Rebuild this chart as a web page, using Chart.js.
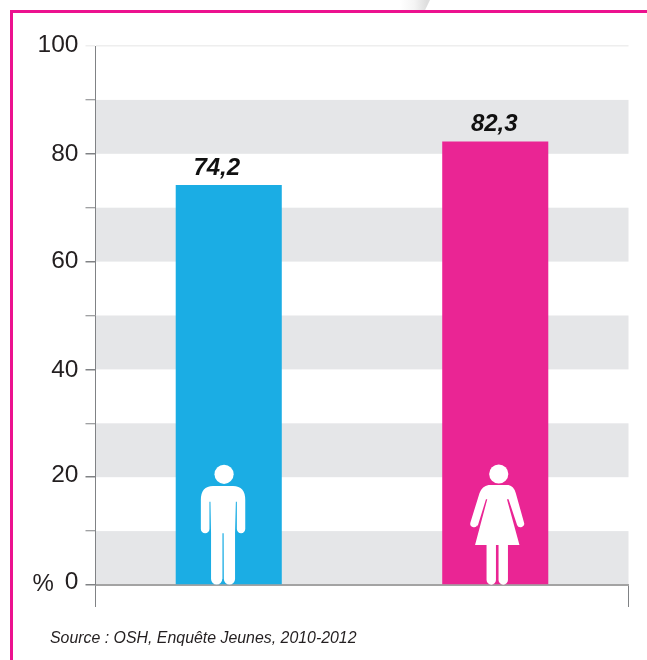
<!DOCTYPE html>
<html lang="fr">
<head>
<meta charset="utf-8">
<title>Enquête Jeunes</title>
<script src="https://cdn.jsdelivr.net/npm/chart.js@4"></script>
<style>
html,body{margin:0;padding:0;background:#fff;width:647px;height:660px;overflow:hidden}
#wrap{position:relative;width:647px;height:660px}
#swoosh{position:absolute;left:395px;top:0;width:35px;height:10px;background:linear-gradient(90deg,#fff 15%,#f4f4f4 55%,#dedede 90%);clip-path:polygon(0 0,100% 0,86% 100%,0 100%)}
#frame{position:absolute;left:10px;top:10px;width:637px;height:650px;box-sizing:border-box;border-left:3px solid #EC118F;border-top:3px solid #EC118F}
canvas{position:absolute;left:0;top:0}
</style>
</head>
<body>
<div id="wrap">
<div id="swoosh"></div>
<div id="frame"></div>
<canvas id="c" width="647" height="660"></canvas>
</div>
<script>
const categories = ['Hommes', 'Femmes'];
const seriesValues = [74.2, 82.3];
const valueLabels = ['74,2', '82,3'];
const barColors = ['#1BADE4', '#EA2594'];
const tickValues = [0, 20, 40, 60, 80, 100];
const bandRanges = [[0, 10], [20, 30], [40, 50], [60, 70], [80, 90]];
const sourceText = 'Source : OSH, Enquête Jeunes, 2010-2012';
const unitText = '%';

const INK = '#231F20';
const labelNudgeX = [-12, -1];
const tickNudge = {100: -1, 80: 0, 60: 0, 40: 1, 20: -2, 0: -3};

function drawMan(ctx, cx, base) {
  ctx.beginPath(); ctx.arc(cx + 1, base - 110.7, 9.6, 0, Math.PI * 2); ctx.fill();
  ctx.beginPath();
  ctx.moveTo(cx - 10, base - 99);
  ctx.lineTo(cx + 10, base - 99);
  ctx.quadraticCurveTo(cx + 22.2, base - 99, cx + 22.2, base - 85);
  ctx.lineTo(cx + 22.2, base - 56);
  ctx.arc(cx + 18, base - 56, 4.2, 0, Math.PI);
  ctx.lineTo(cx + 13.8, base - 83.3);
  ctx.lineTo(cx + 12.8, base - 83.3);
  ctx.lineTo(cx + 12, base - 52);
  ctx.lineTo(cx + 12, base - 6);
  ctx.arc(cx + 6.4, base - 6, 5.6, 0, Math.PI);
  ctx.lineTo(cx + 0.6, base - 51.7);
  ctx.lineTo(cx - 0.6, base - 51.7);
  ctx.lineTo(cx - 0.6, base - 6);
  ctx.arc(cx - 6.4, base - 6, 5.6, 0, Math.PI);
  ctx.lineTo(cx - 12, base - 52);
  ctx.lineTo(cx - 12.6, base - 83.3);
  ctx.lineTo(cx - 13.6, base - 83.3);
  ctx.lineTo(cx - 13.6, base - 56);
  ctx.arc(cx - 17.9, base - 56, 4.3, 0, Math.PI);
  ctx.lineTo(cx - 22.2, base - 85);
  ctx.quadraticCurveTo(cx - 22.2, base - 99, cx - 10, base - 99);
  ctx.closePath(); ctx.fill();
}

function drawWoman(ctx, cx, base) {
  ctx.beginPath(); ctx.arc(cx + 1.5, base - 111, 9.6, 0, Math.PI * 2); ctx.fill();
  ctx.beginPath();
  ctx.moveTo(cx - 8.7, base - 100);
  ctx.lineTo(cx + 11.3, base - 100);
  ctx.quadraticCurveTo(cx + 16.5, base - 99, cx + 18.5, base - 92);
  ctx.lineTo(cx + 26.6, base - 63);
  ctx.arc(cx + 23.2, base - 61.5, 3.7, -0.4, Math.PI - 0.3);
  ctx.lineTo(cx + 11.3, base - 85.7);
  ctx.lineTo(cx + 9.7, base - 85.7);
  ctx.lineTo(cx + 22.2, base - 40);
  ctx.lineTo(cx + 10.7, base - 40);
  ctx.lineTo(cx + 10.7, base - 5);
  ctx.arc(cx + 6, base - 5, 4.7, 0, Math.PI);
  ctx.lineTo(cx + 1.3, base - 40);
  ctx.lineTo(cx - 1.3, base - 40);
  ctx.lineTo(cx - 1.3, base - 5);
  ctx.arc(cx - 6, base - 5, 4.7, 0, Math.PI);
  ctx.lineTo(cx - 10.7, base - 40);
  ctx.lineTo(cx - 22.2, base - 40);
  ctx.lineTo(cx - 10, base - 85.7);
  ctx.lineTo(cx - 11.3, base - 85.7);
  ctx.lineTo(cx - 19.7, base - 58.5);
  ctx.arc(cx - 23.3, base - 61.5, 3.7, 0.4, Math.PI + 0.3);
  ctx.lineTo(cx - 17.7, base - 92);
  ctx.quadraticCurveTo(cx - 15, base - 99, cx - 8.7, base - 100);
  ctx.closePath(); ctx.fill();
}

const decorations = {
  id: 'decorations',
  beforeDraw(chart) {
    const {ctx, chartArea: a, scales: {y}} = chart;
    ctx.save();
    ctx.fillStyle = '#E5E6E8';
    bandRanges.forEach(([lo, hi]) => {
      const top = y.getPixelForValue(hi), bot = y.getPixelForValue(lo);
      ctx.fillRect(a.left, top, a.right - a.left, bot - top);
    });
    ctx.restore();
    // small per-tick vertical adjustment of the axis labels
    y.getLabelItems().forEach(item => {
      const v = Number(item.label);
      if (!item._n && item.label !== '' && v in tickNudge) {
        item.options.translation[1] += tickNudge[v];
        item._n = true;
      }
    });
  },
  afterDatasetsDraw(chart) {
    const {ctx, scales: {x, y}} = chart;
    const meta = chart.getDatasetMeta(0);
    ctx.save();
    ctx.textAlign = 'center';
    ctx.textBaseline = 'alphabetic';
    ctx.fillStyle = '#111';
    ctx.font = 'italic bold 24px "Liberation Sans", Arial, sans-serif';
    meta.data.forEach((bar, i) => {
      ctx.fillText(valueLabels[i], bar.x + labelNudgeX[i], bar.y - 10);
    });
    ctx.fillStyle = '#fff';
    drawMan(ctx, x.getPixelForValue(0) - 5.7, y.getPixelForValue(0));
    drawWoman(ctx, x.getPixelForValue(1) + 2, y.getPixelForValue(0));
    ctx.fillStyle = INK;
    ctx.textAlign = 'left';
    ctx.font = '24px "Liberation Sans", Arial, sans-serif';
    ctx.fillText(unitText, 32.5, 591);
    ctx.font = 'italic 15.9px "Liberation Sans", Arial, sans-serif';
    ctx.fillText(sourceText, 50, 642.5);
    ctx.restore();
  }
};

new Chart(document.getElementById('c'), {
  type: 'bar',
  data: {
    labels: categories,
    datasets: [{
      data: seriesValues,
      backgroundColor: barColors,
      borderWidth: 0,
      barPercentage: 0.398,
      categoryPercentage: 1
    }]
  },
  plugins: [decorations],
  options: {
    responsive: false,
    animation: false,
    devicePixelRatio: 1,
    layout: {padding: {left: 0, top: 46, right: 18.5, bottom: 53}},
    plugins: {legend: {display: false}, tooltip: {enabled: false}, title: {display: false}},
    scales: {
      x: {
        grid: {
          offset: true,
          drawOnChartArea: false,
          drawTicks: true,
          tickLength: 22,
          tickWidth: 1,
          tickColor: c => c.index === 1 ? 'rgba(0,0,0,0)' : '#808285'
        },
        border: {display: true, color: '#A3A3A3', width: 2},
        ticks: {display: false},
        afterFit: s => { s.height = 22; }
      },
      y: {
        min: 0,
        max: 100,
        afterBuildTicks: s => {
          s.ticks = [];
          for (let v = 0; v <= 100; v += 10) s.ticks.push({value: v});
        },
        afterFit: s => { s.width = 95.5; },
        grid: {
          drawTicks: true,
          tickLength: 10,
          color: c => c.tick && c.tick.value === 100 ? '#EEEEEE' : 'rgba(0,0,0,0)',
          lineWidth: 1.5,
          tickColor: c => c.tick && c.tick.value === 100 ? '#EEEEEE' : '#808285',
          tickWidth: c => c.tick && c.tick.value % 20 === 0 ? 1.5 : 1
        },
        border: {display: true, color: '#808285', width: 1},
        ticks: {
          autoSkip: false,
          padding: 7,
          color: INK,
          font: {family: '"Liberation Sans", Arial, sans-serif', size: 24.5},
          callback: v => tickValues.includes(v) ? String(v) : ''
        }
      }
    }
  }
});
</script>
</body>
</html>
